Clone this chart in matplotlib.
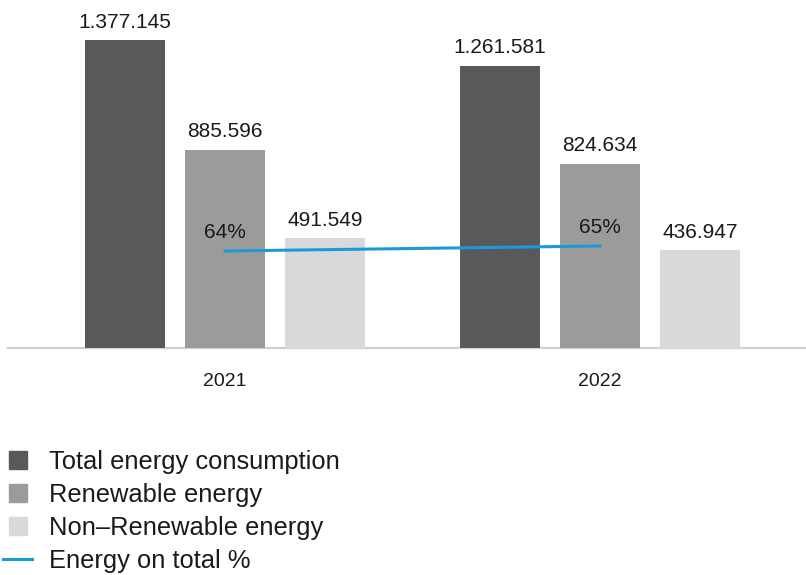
import matplotlib
matplotlib.use("Agg")
import matplotlib.pyplot as plt
from matplotlib.lines import Line2D
import numpy as np

plt.rcParams['font.family'] = ['Liberation Sans', 'DejaVu Sans']

years = ["2021", "2022"]
total = [1377145, 1261581]
renewable = [885596, 824634]
non_renewable = [491549, 436947]
share_pct = [64, 65]

total_lbl = ["1.377.145", "1.261.581"]
renew_lbl = ["885.596", "824.634"]
nonrenew_lbl = ["491.549", "436.947"]
pct_lbl = ["64%", "65%"]

c_total = "#595959"
c_renew = "#9d9a9a"
c_non = "#d9d9d9"
c_line = "#1b9ad9"
txt = "#1a1a1a"

W, H = 806, 575
fig = plt.figure(figsize=(W / 100, H / 100), dpi=100)

ax_left, ax_right = 8, 806
ax_bottom, ax_top = 348, 10
ax = fig.add_axes([ax_left / W, (H - ax_bottom) / H, (ax_right - ax_left) / W, (ax_bottom - ax_top) / H])

x = np.arange(len(years))
ppu = 375.0
bw = 80 / ppu
off = 100 / ppu

ax.set_xlim(-(225 - ax_left) / ppu, 1 + (ax_right - 600) / ppu)
ymax = total[0] / 308 * (ax_bottom - ax_top)
ax.set_ylim(0, ymax)

groups = [(total, total_lbl, c_total, -off), (renewable, renew_lbl, c_renew, 0), (non_renewable, nonrenew_lbl, c_non, off)]
for vals, lbls, col, o in groups:
    bars = ax.bar(x + o, vals, width=bw, color=col, zorder=3)
    for b, l in zip(bars, lbls):
        ax.annotate(l, (b.get_x() + b.get_width() / 2, b.get_height()),
                    xytext=(0, 9), textcoords="offset points", ha="center", va="baseline",
                    fontsize=15, color=txt, zorder=5)

for s in ["top", "right", "left"]:
    ax.spines[s].set_visible(False)
ax.spines["bottom"].set_color("#d0d0d0")
ax.spines["bottom"].set_linewidth(1.6)
ax.spines["bottom"].set_zorder(2)
ax.set_yticks([])
ax.set_xticks(x)
ax.set_xticklabels(years, fontsize=14, color=txt)
ax.tick_params(axis="x", length=0, pad=18)

ax2 = ax.twinx()
px_per = 5.0
lo = share_pct[0] - (ax_bottom - 251) / px_per
ax2.set_ylim(lo, lo + (ax_bottom - ax_top) / px_per)
ax2.set_xlim(ax.get_xlim())
ax2.plot(x, share_pct, color=c_line, linewidth=2.2, zorder=4)
for xi, v, l in zip(x, share_pct, pct_lbl):
    ax2.annotate(l, (xi, v), xytext=(0, 13.5), textcoords="offset points",
                 ha="center", va="center", fontsize=15, color=txt)
ax2.axis("off")

handles = [
    Line2D([], [], marker="s", linestyle="none", markersize=13.5, color=c_total),
    Line2D([], [], marker="s", linestyle="none", markersize=13.5, color=c_renew),
    Line2D([], [], marker="s", linestyle="none", markersize=13.5, color=c_non),
    Line2D([], [], color=c_line, linewidth=2.2),
]
labels = ["Total energy consumption", "Renewable energy", "Non\u2013Renewable energy", "Energy on total %"]
fig.legend(handles, labels, loc="upper left", bbox_to_anchor=(3 / W, 1 - 450 / H),
           frameon=False, fontsize=18.4, handlelength=1.15, handletextpad=0.65,
           labelspacing=0.35, borderpad=0, borderaxespad=0, labelcolor=txt)

fig.savefig("out.png", dpi=100)
